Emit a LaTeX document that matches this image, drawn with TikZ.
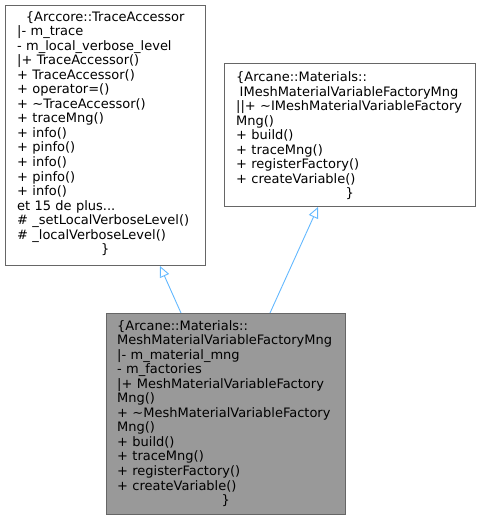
\documentclass[tikz,border=0pt]{standalone}
\usepackage{fontspec}
\setmainfont{DejaVu Sans}
\usetikzlibrary{arrows.meta}
\definecolor{boxborder}{HTML}{666666}
\definecolor{boxfill}{HTML}{999999}
\definecolor{edgeblue}{HTML}{63B8FF}
\begin{document}
\begin{tikzpicture}[x=1pt,y=-1pt,
  classbox/.style={draw=boxborder, line width=1pt, fill=white, inner sep=0pt, anchor=north west},
  currentbox/.style={classbox, fill=boxfill},
  boxtext/.style={inner sep=0pt, anchor=base west, align=left,
    font=\fontsize{13}{14.55}\selectfont},
  inherit/.style={draw=edgeblue, line width=0.9pt,
    -{Triangle[open, length=11pt, width=10pt]}}]
\useasboundingbox (0,0) rectangle (479,520);
% boxes
\node[classbox, minimum width=200pt, minimum height=260pt] (A) at (5,5) {};
\node[classbox, minimum width=251pt, minimum height=143pt] (B) at (224,63) {};
\node[currentbox, minimum width=239pt, minimum height=201pt] (C) at (106,313) {};
% texts
\node[boxtext, text width=176pt] (At) at (17,21) {%
\makebox[\linewidth]{\{Arccore::TraceAccessor}\\
|- m\_trace\\
- m\_local\_verbose\_level\\
|+ TraceAccessor()\\
+ TraceAccessor()\\
+ operator=()\\
+ \textasciitilde TraceAccessor()\\
+ traceMng()\\
+ info()\\
+ pinfo()\\
+ info()\\
+ pinfo()\\
+ info()\\
et 15 de plus...\\
\# \_setLocalVerboseLevel()\\
\# \_localVerboseLevel()\\
\makebox[\linewidth]{\}}};
\node[boxtext, text width=227pt] (Bt) at (236,81.5) {%
\{Arcane::Materials::\\
\hspace*{3.5pt}IMeshMaterialVariableFactoryMng\\
||+ \textasciitilde IMeshMaterialVariableFactory\\
Mng()\\
+ build()\\
+ traceMng()\\
+ registerFactory()\\
+ createVariable()\\
\makebox[\linewidth]{\}}};
\node[boxtext, text width=217pt] (Ct) at (117,330) {%
\{Arcane::Materials::\\
MeshMaterialVariableFactoryMng\\
|- m\_material\_mng\\
- m\_factories\\
|+ MeshMaterialVariableFactory\\
Mng()\\
+ \textasciitilde MeshMaterialVariableFactory\\
Mng()\\
+ build()\\
+ traceMng()\\
+ registerFactory()\\
+ createVariable()\\
\makebox[\linewidth]{\}}};
% inheritance edges
\draw[inherit] ([xshift=75pt]C.north west) -- ([xshift=155pt]A.south west);
\draw[inherit] ([xshift=164pt]C.north west) -- ([xshift=94pt]B.south west);
\end{tikzpicture}
\end{document}
